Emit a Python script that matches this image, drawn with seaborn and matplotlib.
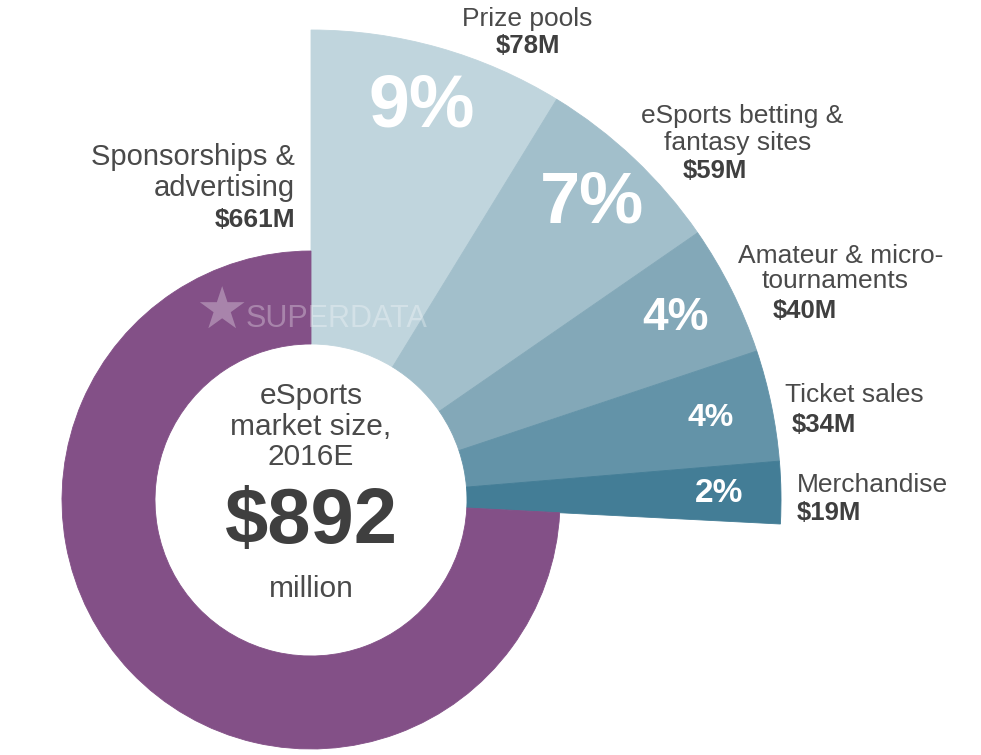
import matplotlib
matplotlib.use("Agg")
import matplotlib.pyplot as plt
import seaborn as sns
import numpy as np

# ---- data ----
categories = ["Prize pools", "eSports betting & fantasy sites", "Amateur & micro-tournaments",
              "Ticket sales", "Merchandise", "Sponsorships & advertising"]
values = [78, 59, 40, 34, 19, 661]          # $ million
total_million = 892
value_labels = ["$78M", "$59M", "$40M", "$34M", "$19M", "$661M"]
colors = ["#c0d5dd", "#a2bfcb", "#83a8b8", "#6393a8", "#437d96", "#835087"]

sns.set_theme(style="white")
plt.rcParams["font.family"] = ["Liberation Sans", "DejaVu Sans"]

TXT = "#4a4a4a"
BOLD = "#3f3f3f"

fig = plt.figure(figsize=(9.81, 7.55), dpi=100)
ax = fig.add_axes([0, 0, 1, 1])

R_in, R_ring, R_out = 156, 249, 470
is_ring = [False] * 5 + [True]
outer_colors = ["none" if r else c for c, r in zip(colors, is_ring)]
ring_colors = [c if r else "none" for c, r in zip(colors, is_ring)]

wedges_out, _ = ax.pie(values, radius=R_out, startangle=90, counterclock=False,
                       colors=outer_colors,
                       wedgeprops=dict(width=R_out - R_in, linewidth=0.6))
wedges_ring, _ = ax.pie(values, radius=R_ring, startangle=90, counterclock=False,
                        colors=ring_colors,
                        wedgeprops=dict(width=R_ring - R_in, linewidth=0.6))
for w in list(wedges_out) + list(wedges_ring):
    w.set_edgecolor(w.get_facecolor())

# percentage labels inside exploded wedges
pct_sizes = [53, 52, 33, 23, 24]
for w, v, fs in zip(wedges_out[:5], values[:5], pct_sizes):
    mid = np.deg2rad((w.theta1 + w.theta2) / 2)
    r = 408
    ax.text(r * np.cos(mid), r * np.sin(mid), f"{round(v / total_million * 100)}%",
            ha="center", va="center", color="white", fontsize=fs, fontweight="bold")


def P(px, py):
    return px - 311, 500 - py


def line(px, py, s, size=19, weight="normal", ha="left", color=TXT, **kw):
    x, y = P(px, py)
    ax.text(x, y, s, fontsize=size, fontweight=weight, ha=ha, va="baseline", color=color, **kw)


# category labels
line(527, 26, "Prize pools", ha="center")
line(528, 53, value_labels[0], size=18.5, weight="bold", ha="center", color=BOLD)

line(641, 123, "eSports betting &")
line(664, 150, "fantasy sites")
line(683, 178, value_labels[1], size=18.5, weight="bold", color=BOLD)

line(738, 263, "Amateur & micro-")
line(762, 288, "tournaments")
line(773, 318, value_labels[2], size=18.5, weight="bold", color=BOLD)

line(785, 402, "Ticket sales")
line(792, 432, value_labels[3], size=18.5, weight="bold", color=BOLD)

line(797, 492, "Merchandise")
line(797, 520, value_labels[4], size=18.5, weight="bold", color=BOLD)

line(295, 165, "Sponsorships &", size=21, ha="right")
line(295, 196, "advertising", size=21, ha="right")
line(295, 227, value_labels[5], size=19, weight="bold", ha="right", color=BOLD)

# center text
line(311, 404, "eSports", size=21.5, ha="center")
line(311, 435, "market size,", size=21.5, ha="center")
line(311, 465, "2016E", size=21.5, ha="center")
line(311, 543, f"${total_million}", size=56, weight="bold", ha="center", color=BOLD)
line(311, 597, "million", size=21.5, ha="center")

# watermark
x, y = P(221, 312)
ax.text(x, y, "\u2605", fontsize=42, ha="center", va="center", color="white", alpha=0.3,
        family="DejaVu Sans")
line(246, 327, "SUPERDATA", size=22, color="white", alpha=0.3)

ax.set_xlim(-311, 670)
ax.set_ylim(-255, 500)
ax.set_aspect("equal")
ax.axis("off")

fig.savefig("out.png", dpi=100, facecolor="white")
